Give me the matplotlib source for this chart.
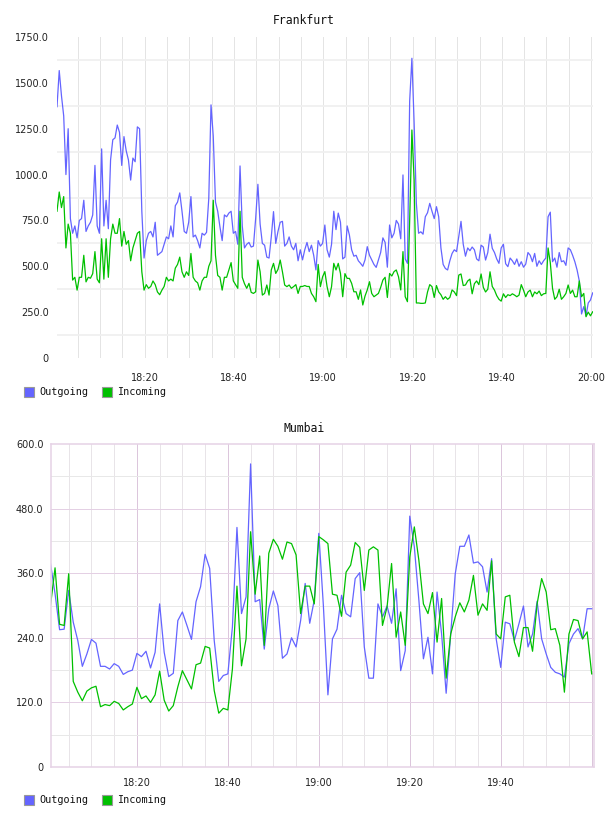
import matplotlib
matplotlib.use('Agg')
import matplotlib.pyplot as plt
import numpy as np
from matplotlib.patches import Rectangle

W, H = 608, 816

series = ['Outgoing', 'Incoming']
colors = ['#6464ff', '#00c000']

# Frankfurt: one sample every 30 s
fra_out = [1370, 1567, 1430, 1320, 1000, 1250, 760, 680, 720, 655,
           750, 760, 860, 690, 720, 740, 780, 1050, 720, 680,
           1140, 720, 860, 705, 1080, 1190, 1200, 1270, 1230, 1050,
           1207, 1130, 1080, 970, 1090, 1070, 1260, 1250, 800, 545,
           640, 680, 690, 660, 740, 560, 570, 580, 620, 660,
           650, 720, 660, 830, 850, 900, 800, 690, 680, 740,
           880, 660, 670, 640, 600, 680, 670, 685, 870, 1380,
           1210, 850, 800, 715, 640, 780, 770, 790, 800, 680,
           690, 620, 1047,
           720, 600, 620, 630, 605, 610, 760, 947, 730, 625,
           615, 550, 545, 660, 798, 625, 690, 740, 745, 610,
           625, 660, 610, 590, 625, 530, 590, 535, 590, 630,
           580, 615, 560, 480, 640, 610, 625, 725, 590, 550,
           620, 800, 700, 790, 740, 540, 550, 720, 670, 590,
           555, 560, 530, 516, 500, 535, 607, 560, 535, 510,
           494, 534, 575, 655, 630, 495, 725, 655, 680, 750,
           730, 650, 998, 540, 516, 1400, 1634, 1280, 843, 680,
           688, 675, 770, 792, 843, 800, 760, 825, 770, 600,
           510, 488, 480, 530, 570, 590, 580, 661, 745, 620,
           555, 600, 585, 605, 590, 540, 530, 615, 605, 534,
           575, 675, 598, 575, 540, 516, 600, 620, 514, 498,
           545, 530, 510, 540, 500, 525, 495, 512, 575, 560,
           525, 570, 500, 530, 510, 530, 545, 770, 795, 525,
           545, 495, 575, 525, 530, 505, 600, 590, 560, 525,
           480, 420, 240, 280, 230, 300, 316, 355]
fra_in = [800, 905, 820, 880, 600, 730, 680, 425, 440, 370,
          440, 440, 560, 415, 440, 435, 460, 580, 430, 410,
          650, 430, 650, 440, 650, 730, 680, 680, 760, 610,
          690, 620, 640, 530, 600, 640, 680, 690, 470, 370,
          400, 380, 390, 420, 400, 360, 345, 370, 390, 440,
          420, 430, 420, 490, 510, 550, 470, 440, 470, 450,
          570, 440, 420, 410, 370, 420, 440, 440, 500, 530,
          860, 560, 450, 440, 370, 440, 440, 480, 520, 420,
          400, 380, 800,
          440, 405, 380, 407, 358, 352, 361, 534, 470, 343,
          352, 398, 343, 480, 516, 461, 483, 534, 470, 398,
          389, 398, 380, 389, 400, 352, 390, 390, 395, 390,
          390, 352, 334, 307, 510, 389, 443, 471, 389, 334,
          389, 516, 480, 516, 461, 334, 460, 434, 434, 407,
          361, 361, 320, 371, 289, 338, 371, 416, 352, 334,
          343, 352, 385, 425, 440, 330, 461, 447, 471, 480,
          443, 371, 580, 334, 307, 750, 1243, 970, 300, 300,
          298, 298, 300, 360, 400, 389, 330, 395, 360, 345,
          320, 334, 320, 330, 371, 360, 340, 452, 458, 395,
          398, 420, 430, 350, 405, 420, 400, 458, 385, 360,
          375, 470, 390, 370, 340, 320, 310, 350, 330, 345,
          340, 350, 343, 334, 343, 400, 370, 334, 360, 370,
          334, 360, 350, 365, 340, 350, 352, 600, 520, 380,
          320, 334, 375, 320, 334, 352, 398, 352, 370, 334,
          334, 420, 334, 352, 225, 250, 230, 252]

# Mumbai: one sample per minute from 18:01
mum_out = [378, 322, 255, 256, 328, 269, 235, 187, 210, 237,
           230, 187, 187, 182, 192, 187, 172, 177, 180, 211,
           205, 215, 184, 213, 303, 213, 168, 174, 272, 288,
           263, 237, 307, 335, 395, 369, 235, 159, 170, 173,
           260, 445, 285, 316, 563, 307, 311, 219, 294, 327,
           300, 202, 210, 240, 223, 272, 341, 267, 310, 434,
           300, 134, 238, 256, 319, 285, 279, 350, 361, 223,
           165, 165, 303, 279, 299, 267, 331, 179, 216, 466,
           409, 310, 201, 241, 173, 325, 247, 137, 247, 359,
           410, 410, 431, 379, 381, 372, 325, 387, 238, 185,
           269, 266, 235, 266, 299, 223, 247, 308, 238, 210,
           185, 176, 173, 167, 229, 247, 257, 238, 294, 294]
mum_in = [300, 370, 265, 263, 359, 159, 139, 123, 141, 147,
          150, 112, 116, 114, 122, 118, 106, 112, 117, 148,
          127, 132, 120, 134, 178, 124, 104, 114, 149, 179,
          162, 145, 190, 193, 224, 221, 142, 100, 109, 106,
          182, 336, 188, 238, 437, 321, 392, 226, 397, 423,
          410, 386, 418, 415, 394, 285, 336, 336, 303, 428,
          422, 415, 321, 319, 280, 362, 375, 417, 408, 328,
          403, 409, 403, 263, 297, 378, 241, 288, 226, 390,
          446, 384, 303, 285, 324, 232, 313, 165, 247, 279,
          305, 288, 310, 356, 282, 303, 291, 383, 247, 238,
          316, 319, 232, 205, 259, 259, 215, 303, 350, 325,
          255, 257, 226, 139, 247, 274, 272, 238, 251, 173]

fra_labels = ['18:20', '18:40', '19:00', '19:20', '19:40', '20:00']
mum_labels = ['18:20', '18:40', '19:00', '19:20', '19:40']
fra_yticks = [0, 250, 500, 750, 1000, 1250, 1500, 1750]
mum_yticks = [0, 120, 240, 360, 480, 600]


def minutes(label):
    h, m = label.split(':')
    return (int(h) - 18) * 60 + int(m)


def ylabel(v):
    return '0' if v == 0 else '%.1f' % v


def px_axes(fig, l, t, r, b):
    return fig.add_axes([l / W, 1 - b / H, (r - l) / W, (b - t) / H])


def legend(fig, yc):
    for i, name in enumerate(series):
        x0 = 24 + i * 78
        fig.patches.append(Rectangle((x0 / W, (H - yc - 5) / H), 10 / W, 10 / H,
                                     transform=fig.transFigure, facecolor=colors[i],
                                     edgecolor='#999999', lw=0.8))
        fig.text((x0 + 15) / W, 1 - yc / H, name, family='DejaVu Sans Mono',
                 fontsize=7.3, va='center', ha='left', color='#111111')


fig = plt.figure(figsize=(W / 100, H / 100), dpi=100)

# ---- Frankfurt
ax = px_axes(fig, 57, 37, 592.7, 358)
t = 0.35 + 0.5 * np.arange(len(fra_out))
ax.plot(t, fra_out, color=colors[0], lw=0.9)
ax.plot(t, fra_in, color=colors[1], lw=0.9)
ax.set_xlim(0.35, 120.35)
ax.set_ylim(0, 1750)
for s in ax.spines.values():
    s.set_visible(False)
for m in range(5, 121, 5):
    ax.axvline(m, color='#e4e4e4', lw=0.72, zorder=0)
for v in range(125, 1750, 250):
    ax.axhline(v, color='#f0f0f0', lw=1.3, zorder=0)
ax.set_xticks([minutes(l) for l in fra_labels])
ax.set_xticklabels(fra_labels)
ax.set_yticks(fra_yticks)
ax.set_yticklabels([ylabel(v) for v in fra_yticks])
ax.tick_params(length=0, labelsize=7, colors='#222222')
ax.tick_params(axis='x', pad=11)
ax.tick_params(axis='y', pad=6)
fig.text(0.5, 1 - 20 / H, 'Frankfurt', family='DejaVu Sans Mono', fontsize=8.3,
         ha='center', va='center', color='#111111')
legend(fig, 392)

# ---- Mumbai
ax2 = px_axes(fig, 50.5, 444, 593.5, 767)
tm = 1 + np.arange(len(mum_out))
ax2.plot(tm, mum_out, color=colors[0], lw=0.9)
ax2.plot(tm, mum_in, color=colors[1], lw=0.9)
ax2.set_xlim(1, 120.4)
ax2.set_ylim(0, 600)
for s in ax2.spines.values():
    s.set_color('#e6d2e6')
    s.set_linewidth(1.1)
for m in range(5, 121, 5):
    ax2.axvline(m, color='#dcc6dc' if m % 20 == 0 else '#e8e4e8', lw=0.72, zorder=0)
for v in range(60, 600, 60):
    ax2.axhline(v, color='#e4d0e4' if v % 120 == 0 else '#e8e8e8', lw=0.72, zorder=0)
ax2.set_xticks([minutes(l) for l in mum_labels])
ax2.set_xticklabels(mum_labels)
ax2.set_yticks(mum_yticks)
ax2.set_yticklabels([ylabel(v) for v in mum_yticks])
ax2.tick_params(length=0, labelsize=7, colors='#222222')
ax2.tick_params(axis='x', pad=8)
ax2.tick_params(axis='y', pad=5)
fig.text(0.5, 1 - 428 / H, 'Mumbai', family='DejaVu Sans Mono', fontsize=8.3,
         ha='center', va='center', color='#111111')
legend(fig, 800)

fig.savefig('out.png', dpi=100)
